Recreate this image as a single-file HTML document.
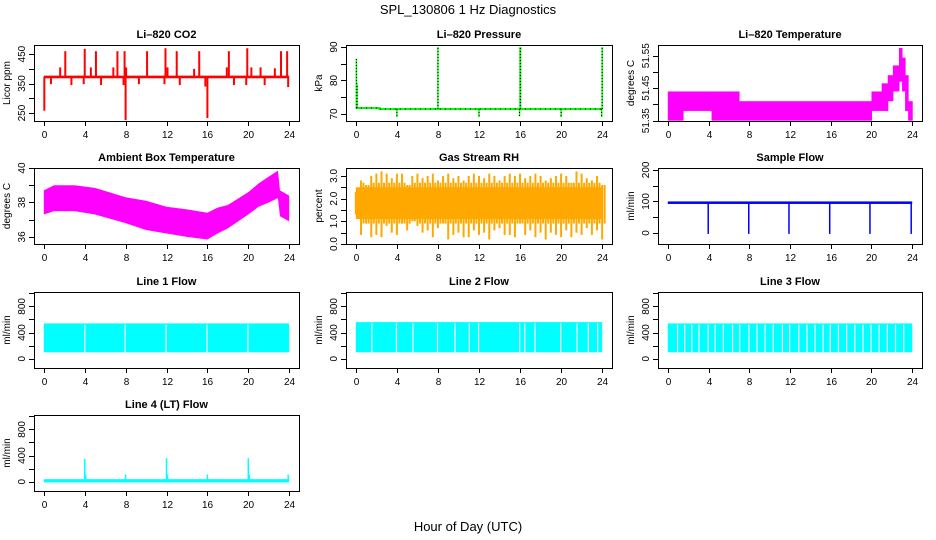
<!DOCTYPE html>
<html><head><meta charset="utf-8"><style>
body{margin:0;background:#fff}
svg{display:block;font-family:"Liberation Sans",Arial,sans-serif}
</style></head><body>
<svg id="c" width="936" height="540" viewBox="0 0 936 540" xmlns="http://www.w3.org/2000/svg">
<text x="468" y="14" text-anchor="middle" font-size="13">SPL_130806  1 Hz Diagnostics</text>
<text x="468" y="531" text-anchor="middle" font-size="13">Hour of Day (UTC)</text>
</svg>
<script>
// ---------- data ----------
const xTicks=[0,4,8,12,16,20,24];
// CO2
const co2Base=372;
const co2SpikeT=[2.1,4.0,5.1,7.2,7.9,10.1,11.9,13.0,15.2,18.1,19.9,21.2,23.2,23.8,1.6,4.6,6.8,8.05,12.1,14.7,17.9,20.3,22.6,0.7,2.7,3.9,5.6,7.8,9.3,11.8,13.3,15.8,18.6,19.8,21.6,23.9,8.0,16.0,0.05];
const co2SpikeV=[460,468,460,460,460,460,470,460,460,460,470,405,460,460,405,405,405,405,405,400,405,405,402,348,345,348,345,345,348,348,345,340,345,345,345,338,226,233,258];
// Pressure
const presBandT=[0,2.3,24];
const presBandV=[71.8,71.5,71.5];
const presSpikeT=[0.05,0.12,8.0,16.0,16.05,24.0,4.0,12.0,20.0,15.95,23.95];
const presSpikeV=[86.5,79,90,90,90,90,69,69,69,69.3,69];
// Li-820 temperature steps
const tmpStart=[0,1.5,4.3,7.0,20.0,21.0,21.6,22.1,22.7,23.0,23.3,23.6];
const tmpEnd=[1.5,4.3,7.0,20.0,21.0,21.6,22.1,22.7,23.0,23.3,23.6,24.0];
const tmpLo=[51.35,51.38,51.35,51.35,51.38,51.38,51.41,51.44,51.47,51.44,51.38,51.35];
const tmpHi=[51.44,51.44,51.44,51.41,51.44,51.465,51.49,51.52,51.574,51.544,51.49,51.41];
// Ambient
const ambT=[0,1,3,5,8,10,12,14,16,17,18,20,21,22,22.9,23.1,24];
const ambHi=[38.7,39.0,39.0,38.85,38.3,38.1,37.75,37.6,37.4,37.7,37.85,38.6,39.1,39.5,39.85,38.7,38.4];
const ambLo=[37.3,37.5,37.5,37.3,36.8,36.4,36.2,36.0,35.85,36.2,36.5,37.3,37.75,38.0,38.25,37.2,36.9];
// RH (half-hourly)
const rhHi=[2.3,2.8,2.6,3.0,3.1,3.2,3.1,2.9,3.1,3.1,2.6,3.0,3.1,2.9,3.0,3.1,2.8,3.0,3.1,2.9,3.0,2.8,3.0,3.1,3.0,2.9,3.1,3.0,2.8,3.0,3.1,3.0,3.1,2.9,3.0,3.1,3.0,2.8,2.9,3.0,3.1,3.0,2.7,3.2,3.1,2.9,2.8,3.0,2.6];
const rhLo=[1.3,0.4,0.9,0.3,0.4,0.3,0.8,0.5,0.4,0.9,0.6,1.0,0.8,0.5,0.6,0.3,0.7,0.9,0.2,0.4,0.5,0.3,0.3,0.6,0.4,0.5,0.2,0.6,0.7,0.4,0.4,0.3,0.9,0.4,0.6,0.3,0.5,0.2,0.5,0.4,0.3,0.6,0.3,0.5,0.4,0.7,0.4,0.6,0.2];
// Sample flow
const sfLevel=96;
const sfDipT=[3.97,7.95,11.9,15.9,19.85,23.9];
const sfDipV=[-3,-3,-3,-3,-3,-3];
// Line flows
const l1Top=540,l1Bot=100;
const l1Gaps=[3.95,7.9,11.9,15.9,19.9];
const l2Top=560,l2Bot=100;
const l2Gaps=[1.5,3.9,5.5,7.9,9.6,11.0,11.9,15.9,16.4,17.4,19.9,21.5,22.6,23.5];
const l3Top=540,l3Bot=100;
const l3Gaps=[0.9,1.6,2.3,3.0,3.9,4.6,5.4,6.3,7.0,7.9,8.7,9.5,10.3,11.2,11.9,12.8,13.6,14.4,15.2,15.9,16.7,17.5,18.3,19.1,19.9,20.7,21.5,22.3,23.1];
const l4Level=15;
const l4SpikeT=[4.0,12.0,20.0,4.1,8.0,12.1,16.0,20.1,23.9];
const l4SpikeV=[350,360,360,110,110,110,110,110,110];

// ---------- drawing ----------
const svg=document.getElementById('c');
const NS='http://www.w3.org/2000/svg';
const colX=[[34,299],[346,612],[658,922]];
const rowY=[45,168,292,415];
const BH=76;
const RH_FILL='#ffa800';
function mk(tag,attrs,parent){const e=document.createElementNS(NS,tag);for(const k in attrs)e.setAttribute(k,attrs[k]);(parent||svg).appendChild(e);return e;}
function panel(name,title,col,row,d0,d1,yt,yl,ylab){
  const x0=colX[col][0],x1=colX[col][1],y0=rowY[row],y1=y0+BH;
  const g=mk('g',{});
  
  
  const X=t=>x0+(t+0.96)/25.92*(x1-x0);
  const Y=v=>y1-(v-d0)/(d1-d0)*BH;
  const tt=mk('text',{x:(x0+x1)/2,y:y0-7,'text-anchor':'middle','font-size':11,'font-weight':'bold'},g);
  tt.textContent=title;
  
  
  const plot=mk('g',{},g);
  
  
  const ax=mk('g',{stroke:'#000','stroke-width':1,fill:'none'},g);
  
  
  mk('rect',{x:x0+.5,y:y0+.5,width:x1-x0,height:BH},ax);
  xTicks.forEach(t=>{const px=Math.round(X(t))+.5;mk('line',{x1:px,x2:px,y1:y1,y2:y1+5},ax);
    const l=mk('text',{x:px,y:y1+17,'text-anchor':'middle','font-size':10,fill:'#000',stroke:'none'},g);l.textContent=t;
    
    });
  yt.forEach(v=>{const py=Math.round(Y(v))+.5;mk('line',{x1:x0,x2:x0-5,y1:py,y2:py},ax);});
  yl.forEach(v=>{const py=Y(v);const l=mk('text',{x:0,y:0,transform:`translate(${x0-9},${py}) rotate(-90)`,'text-anchor':'middle','font-size':10},g);l.textContent=v;
    
    });
  const yl2=mk('text',{x:0,y:0,transform:`translate(${x0-24},${y0+BH/2}) rotate(-90)`,'text-anchor':'middle','font-size':10},g);yl2.textContent=ylab;
  
  
  return {X,Y,plot};
}
function vline(p,t,a,b,color,w){mk('line',{x1:p.X(t),x2:p.X(t),y1:p.Y(a),y2:p.Y(b),stroke:color,'stroke-width':w||1.5},p.plot);}

// CO2
let p=panel('co2','Li\u2013820 CO2',0,0,223,481,[250,300,350,400,450],['250','350','450'],'Licor ppm');
mk('rect',{x:p.X(0),y:p.Y(377),width:p.X(24)-p.X(0),height:p.Y(368)-p.Y(377),fill:'#f00'},p.plot);
co2SpikeT.forEach((t,i)=>vline(p,t,co2Base,co2SpikeV[i],'#f00',2));
// Pressure
p=panel('pressure','Li\u2013820 Pressure',1,0,67.9,90.6,[70,75,80,85,90],['70','80','90'],'kPa');
let pts=[];presBandT.forEach((t,i)=>{if(i>0)pts.push(p.X(t)+','+p.Y(presBandV[i-1]));pts.push(p.X(t)+','+p.Y(presBandV[i]));});
mk('polyline',{points:pts.join(' '),fill:'none',stroke:'#0f0','stroke-width':2},p.plot);
mk('polyline',{points:pts.join(' '),fill:'none',stroke:'#000','stroke-width':1,'stroke-dasharray':'1 4'},p.plot);
presSpikeT.forEach((t,i)=>{const base=t<2.3?71.8:71.5;vline(p,t,base,presSpikeV[i],'#0f0',1.5);
  mk('line',{x1:p.X(t),x2:p.X(t),y1:p.Y(base),y2:p.Y(presSpikeV[i]),stroke:'#000','stroke-width':1,'stroke-dasharray':'1 2'},p.plot);});
// Li temp
p=panel('li-temp','Li\u2013820 Temperature',2,0,51.349,51.583,[51.35,51.40,51.45,51.50,51.55],['51.35','51.45','51.55'],'degrees C');
tmpStart.forEach((s,i)=>mk('rect',{x:p.X(s),y:p.Y(tmpHi[i]),width:p.X(tmpEnd[i])-p.X(s)+0.5,height:p.Y(tmpLo[i])-p.Y(tmpHi[i]),fill:'#f0f'},p.plot));
// Ambient
p=panel('ambient','Ambient Box Temperature',0,1,35.59,40.0,[36,37,38,39,40],['36','38','40'],'degrees C');
pts=ambT.map((t,i)=>p.X(t)+','+p.Y(ambHi[i])).concat(ambT.map((t,i)=>p.X(t)+','+p.Y(ambLo[i])).reverse());
mk('polygon',{points:pts.join(' '),fill:'#f0f'},p.plot);
// RH
p=panel('rh','Gas Stream RH',1,1,0,3.35,[0,0.5,1,1.5,2,2.5,3],['0.0','1.0','2.0','3.0'],'percent');
mk('rect',{x:p.X(0),y:p.Y(2.5),width:p.X(24)-p.X(0),height:p.Y(1.1)-p.Y(2.5),fill:RH_FILL},p.plot);
rhHi.forEach((h,i)=>{const t=i*0.5;mk('rect',{x:p.X(t)-1,y:p.Y(h),width:2,height:p.Y(rhLo[i])-p.Y(h),fill:RH_FILL},p.plot);
  mk('rect',{x:p.X(t)+1.5,y:p.Y(Math.min(h,2.7)),width:2,height:p.Y(Math.max(rhLo[i],0.9))-p.Y(Math.min(h,2.7)),fill:RH_FILL},p.plot);});
// Sample flow
p=panel('sample-flow','Sample Flow',2,1,-35,206,[0,50,100,150,200],['0','100','200'],'ml/min');
mk('rect',{x:p.X(0),y:p.Y(100),width:p.X(24)-p.X(0),height:p.Y(92)-p.Y(100),fill:'#00f'},p.plot);
sfDipT.forEach((t,i)=>vline(p,t,sfLevel,sfDipV[i],'#00f',1.5));
// Line flows
function flow(name,title,col,row,top,bot,gaps){
  const q=panel(name,title,col,row,-141,1020,[0,200,400,600,800,1000],['0','400','800'],'ml/min');
  mk('rect',{x:q.X(0),y:q.Y(top),width:q.X(24)-q.X(0),height:q.Y(bot)-q.Y(top),fill:'#0ff'},q.plot);
  gaps.forEach(t=>mk('rect',{x:q.X(t),y:q.Y(top-20),width:1.2,height:q.Y(bot)-q.Y(top-20),fill:'#fff'},q.plot));
  return q;
}
flow('line1-flow','Line 1 Flow',0,2,l1Top,l1Bot,l1Gaps);
flow('line2-flow','Line 2 Flow',1,2,l2Top,l2Bot,l2Gaps);
flow('line3-flow','Line 3 Flow',2,2,l3Top,l3Bot,l3Gaps);
p=panel('line4-flow','Line 4 (LT) Flow',0,3,-141,1020,[0,200,400,600,800,1000],['0','400','800'],'ml/min');
mk('rect',{x:p.X(0),y:p.Y(l4Level+25),width:p.X(24)-p.X(0),height:p.Y(l4Level-25)-p.Y(l4Level+25),fill:'#0ff'},p.plot);
l4SpikeT.forEach((t,i)=>vline(p,t,l4Level,l4SpikeV[i],'#0ff',1.5));
</script>
</body></html>
